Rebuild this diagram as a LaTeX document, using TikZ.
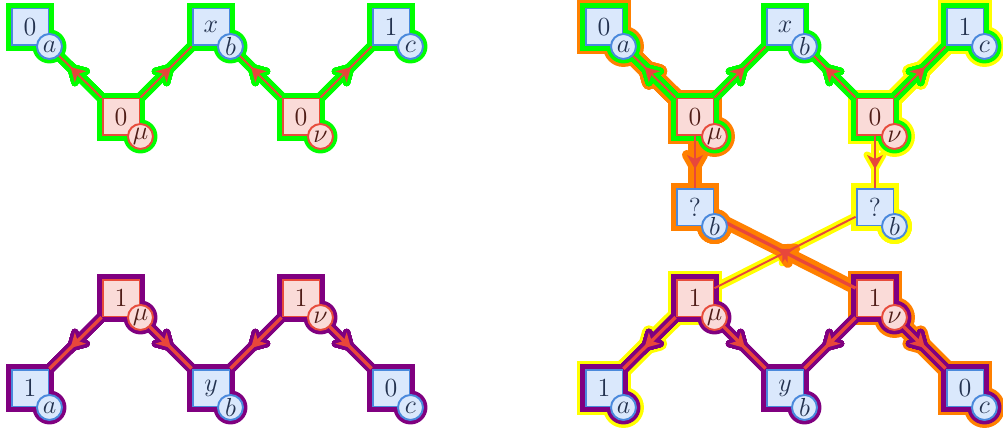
\documentclass[tikz,border=0pt]{standalone}
\usepackage{amsmath}
\usepackage{xcolor}
\usepackage{tikz}
\usetikzlibrary{calc, decorations.markings}
\definecolor{varFill}{HTML}{DAE8FC}
\definecolor{varDraw}{HTML}{4A89DC}
\definecolor{varText}{HTML}{23324F}
\definecolor{facFill}{HTML}{FADBD8}
\definecolor{facDraw}{HTML}{E74C3C}
\definecolor{facText}{HTML}{4F1C16}
\definecolor{msgRed}{HTML}{E8473B}
\definecolor{pathGreen}{HTML}{00FF00}
\definecolor{pathPurple}{HTML}{800080}
\definecolor{pathOrange}{HTML}{FF8000}
\definecolor{pathYellow}{HTML}{FFFF00}

\pgfdeclarelayer{outer}
\pgfdeclarelayer{inner}
\pgfdeclarelayer{edges}
\pgfsetlayers{outer,inner,edges,main}

\tikzset{
  varbox/.style={draw=varDraw, fill=varFill, text=varText, line width=0.9pt,
    minimum size=17pt, inner sep=0pt, font=\large},
  facbox/.style={draw=facDraw, fill=facFill, text=facText, line width=0.9pt,
    minimum size=17pt, inner sep=0pt, font=\large},
  varlab/.style={circle, draw=varDraw, fill=varFill, text=varText, line width=0.9pt,
    minimum size=11.5pt, inner sep=0pt, font=\large},
  faclab/.style={circle, draw=facDraw, fill=facFill, text=facText, line width=0.9pt,
    minimum size=11.5pt, inner sep=0pt, font=\large},
  msg/.style={draw=msgRed, line width=#1, postaction={decorate, decoration={markings,
    mark=at position 0.5 with {\fill[msgRed] (7,0) -- (-7,8) -- (-3,0) -- (-7,-8) -- cycle;}}}},
  msg/.default=0.9pt,
  glow/.style n args={3}{draw=#1, line width=#2, line cap=round, postaction={decorate,
    decoration={markings, mark=at position 0.5 with {\draw[#1, fill=#1, line width=#3,
    line join=round] (7,0) -- (-7,8) -- (-3,0) -- (-7,-8) -- cycle;}}}},
}

\newcommand{\varnode}[4]{\node[varbox] (#1) at (#2) {$#3$};
  \node[varlab] (#1-l) at (#1.south east) {$#4$};}
\newcommand{\facnode}[4]{\node[facbox] (#1) at (#2) {$#3$};
  \node[faclab] (#1-l) at (#1.south east) {$#4$};}
\newcommand{\boxring}[3]{\fill[#1] ([shift={(-#2,-#2)}]#3.south west) rectangle ([shift={(#2,#2)}]#3.north east);}
\newcommand{\ring}[3]{\boxring{#1}{#2}{#3}\fill[#1] (#3-l) circle ({12.5+#2});}

\begin{document}
\begin{tikzpicture}[x=0.46pt, y=0.46pt]
    \useasboundingbox (0,0) rectangle (1003,427);
    % left panel
    \varnode{a0}{30,400}{0}{a}
    \facnode{mu0}{121,310}{0}{\mu}
    \varnode{bx}{211,400}{x}{b}
    \facnode{nu0}{301,310}{0}{\nu}
    \varnode{c1}{391,400}{1}{c}
    \facnode{mu1}{121,129}{1}{\mu}
    \facnode{nu1}{301,129}{1}{\nu}
    \varnode{a1}{30,39}{1}{a}
    \varnode{by}{211,39}{y}{b}
    \varnode{c0}{391,39}{0}{c}
    % right panel
    \varnode{a0r}{604,400}{0}{a}
    \facnode{mu0r}{695,310}{0}{\mu}
    \varnode{bxr}{785,400}{x}{b}
    \facnode{nu0r}{875,310}{0}{\nu}
    \varnode{c1r}{965,400}{1}{c}
    \varnode{q1}{695,220}{?}{b}
    \varnode{q2}{875,220}{?}{b}
    \facnode{mu1r}{695,129}{1}{\mu}
    \facnode{nu1r}{875,129}{1}{\nu}
    \varnode{a1r}{604,39}{1}{a}
    \varnode{byr}{785,39}{y}{b}
    \varnode{c0r}{965,39}{0}{c}

    \begin{pgfonlayer}{edges}
        \foreach \f/\v in {mu0/a0, mu0/bx, nu0/bx, nu0/c1, mu0r/a0r, mu0r/bxr, nu0r/bxr, nu0r/c1r}
            \draw[msg] (\f) -- (\v);
        \foreach \f/\v in {mu1/a1, mu1/by, nu1/by, nu1/c0, mu1r/a1r, mu1r/byr, nu1r/byr, nu1r/c0r}
            \draw[msg=1.5pt] (\f) -- (\v);
        \draw[msg=1.1pt] (mu0r) -- (q1);
        \draw[msg=1.1pt] (nu0r) -- (q2);
        \draw[msg] (mu1r) -- (q2);
        \draw[msg=1.5pt] (nu1r) -- (q1);
    \end{pgfonlayer}

    \begin{pgfonlayer}{inner}
        \foreach \n in {a0, mu0, bx, nu0, c1, a0r, mu0r, bxr, nu0r, c1r}
            \ring{pathGreen}{4.5}{\n}
        \foreach \f/\v in {mu0/a0, mu0/bx, nu0/bx, nu0/c1, mu0r/a0r, mu0r/bxr, nu0r/bxr, nu0r/c1r}
            \draw[glow={pathGreen}{4.6pt}{3.2pt}] (\f.center) -- (\v.center);
        \foreach \n in {mu1, nu1, a1, by, c0, mu1r, nu1r, a1r, byr, c0r}
            \ring{pathPurple}{4.5}{\n}
        \foreach \f/\v in {mu1/a1, mu1/by, nu1/by, nu1/c0, mu1r/a1r, mu1r/byr, nu1r/byr, nu1r/c0r}
            \draw[glow={pathPurple}{4.6pt}{3.2pt}] (\f.center) -- (\v.center);
    \end{pgfonlayer}

    \begin{pgfonlayer}{outer}
        % yellow path
        \foreach \n in {c1r, nu0r, a1r}
            \ring{pathYellow}{8}{\n}
        \boxring{pathYellow}{8}{mu1r}
        \ring{pathYellow}{5}{q2}
        \draw[glow={pathYellow}{8.3pt}{6.4pt}] (nu0r.center) -- (c1r.center);
        \draw[glow={pathYellow}{8.3pt}{6.4pt}] (mu1r.center) -- (a1r.center);
        \draw[glow={pathYellow}{4.1pt}{3.2pt}] (nu0r.center) -- (q2.center);
        \draw[glow={pathYellow}{4.1pt}{3.2pt}] (mu1r.center) -- (q2.center);
        % orange path
        \foreach \n in {a0r, mu0r, nu1r, c0r}
            \ring{pathOrange}{8}{\n}
        \ring{pathOrange}{5}{q1}
        \draw[glow={pathOrange}{8.3pt}{6.4pt}] (mu0r.center) -- (a0r.center);
        \draw[glow={pathOrange}{8.3pt}{6.4pt}] (nu1r.center) -- (c0r.center);
        \draw[glow={pathOrange}{6pt}{4.6pt}] (mu0r.center) -- (q1.center);
        \draw[glow={pathOrange}{6pt}{4.6pt}] (nu1r.center) -- (q1.center);
    \end{pgfonlayer}
\end{tikzpicture}
\end{document}
